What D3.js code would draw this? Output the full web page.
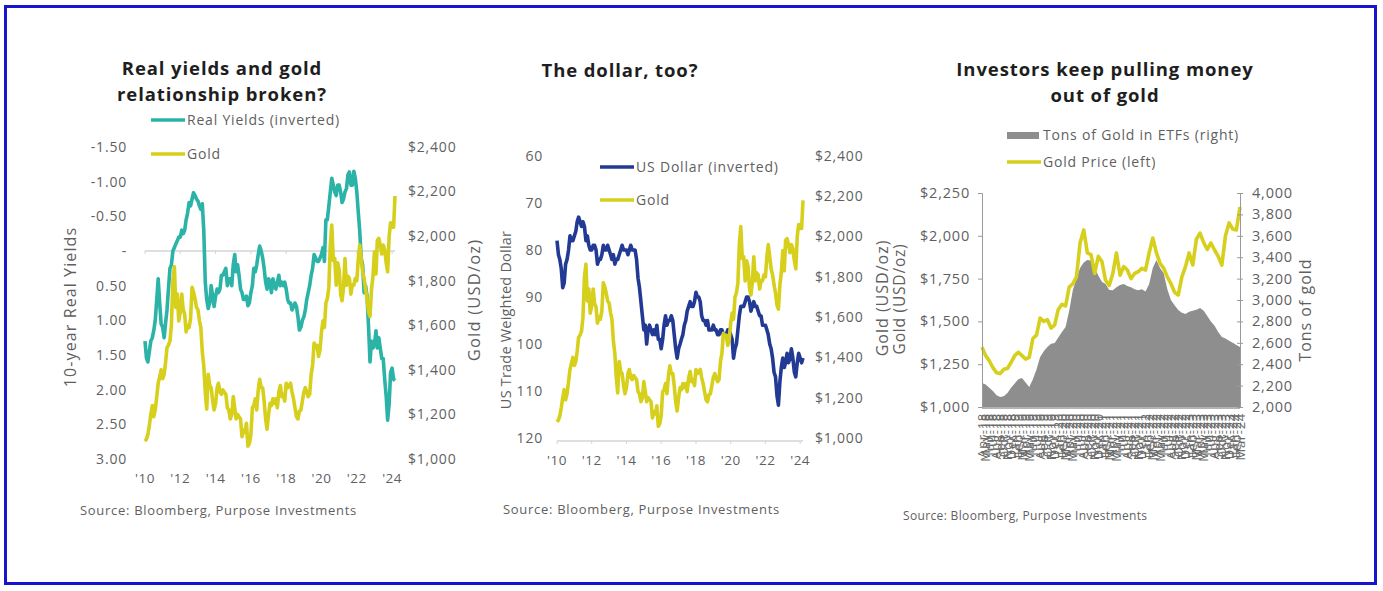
<!DOCTYPE html>
<html>
<head>
<meta charset="utf-8">
<script src="https://cdn.jsdelivr.net/npm/d3@7"></script>
<style>
  body { margin: 0; background: #fff; }
  svg { font-family: "Open Sans", sans-serif; }
</style>
</head>
<body>
<div id="chart"></div>
<script>
// ---- data: monthly, Jan-2010 .. Mar-2024 ----
var realYields = [
  1.30, 1.55, 1.60, 1.45, 1.30, 1.25, 1.15, 1.00, 0.70, 0.40, 0.75, 1.05,
  1.10, 1.25, 1.05, 0.85, 0.55, 0.25, 0.20, 0.00, -0.05, -0.10, -0.15, -0.20,
  -0.20, -0.30, -0.25, -0.30, -0.45, -0.55, -0.70, -0.65, -0.75, -0.84, -0.80, -0.75,
  -0.72, -0.65, -0.60, -0.68, -0.30, 0.45, 0.70, 0.83, 0.75, 0.50, 0.65, 0.80,
  0.65, 0.55, 0.60, 0.55, 0.35, 0.35, 0.30, 0.25, 0.50, 0.40, 0.40, 0.50,
  0.20, 0.05, 0.30, 0.20, 0.35, 0.55, 0.60, 0.70, 0.70, 0.65, 0.79, 0.75,
  0.60, 0.50, 0.25, 0.30, 0.20, 0.05, -0.07, 0.00, 0.10, 0.25, 0.45, 0.55,
  0.40, 0.45, 0.60, 0.40, 0.50, 0.55, 0.45, 0.35, 0.50, 0.45, 0.50, 0.45,
  0.55, 0.70, 0.75, 0.75, 0.85, 0.80, 0.75, 0.80, 0.95, 1.14, 1.10, 1.00,
  0.95, 0.85, 0.70, 0.60, 0.50, 0.35, 0.25, 0.05, 0.10, 0.15, 0.15, 0.10,
  0.05, -0.05, 0.15, -0.45, -0.45, -0.65, -0.85, -1.05, -0.95, -0.85, -0.80, -0.95,
  -0.95, -0.85, -0.70, -0.75, -0.85, -0.90, -1.10, -1.14, -0.95, -0.95, -1.15, -1.05,
  -0.85, -0.55, -0.30, 0.10, 0.20, 0.60, 0.50, 0.65, 1.10, 1.60, 1.30, 1.40,
  1.35, 1.15, 1.40, 1.25, 1.40, 1.55, 1.55, 1.85, 2.10, 2.44, 2.20, 1.75,
  1.69, 1.85, 1.87
];
var goldPrice = [
  1080, 1090, 1110, 1150, 1200, 1240, 1190, 1220, 1280, 1340, 1370, 1400,
  1360, 1380, 1430, 1500, 1510, 1530, 1600, 1800, 1863, 1680, 1740, 1620,
  1660, 1740, 1670, 1650, 1570, 1600, 1590, 1630, 1770, 1750, 1720, 1680,
  1670, 1620, 1590, 1480, 1420, 1300, 1224, 1380, 1330, 1320, 1260, 1220,
  1250, 1320, 1340, 1300, 1290, 1310, 1300, 1290, 1230, 1220, 1180, 1200,
  1280, 1230, 1180, 1200, 1190, 1180, 1100, 1130, 1120, 1160, 1058, 1070,
  1110, 1230, 1240, 1270, 1220, 1310, 1358, 1320, 1320, 1260, 1180, 1134,
  1200, 1250, 1240, 1270, 1250, 1270, 1230, 1300, 1330, 1280, 1290, 1260,
  1340, 1320, 1330, 1340, 1300, 1270, 1230, 1190, 1180, 1215, 1220, 1260,
  1300, 1320, 1300, 1280, 1290, 1380, 1420, 1520, 1500, 1510, 1460, 1490,
  1570, 1620, 1590, 1700, 1720, 1770, 1960, 2050, 1890, 1900, 1780, 1880,
  1850, 1740, 1710, 1770, 1900, 1780, 1820, 1810, 1740, 1780, 1780, 1810,
  1800, 1900, 1960, 1900, 1840, 1810, 1760, 1720, 1660, 1640, 1760, 1820,
  1930, 1830, 1980, 1990, 1960, 1920, 1960, 1940, 1880, 1840, 2000, 2060,
  2040, 2040, 2180
];
var usDollar = [
  78, 81, 82, 84, 88, 87, 83, 82, 80, 77, 78, 78,
  77, 76, 74, 73, 74, 75, 74, 75, 78, 77, 79, 80,
  80, 79, 79, 80, 83, 82, 82, 81, 79, 80, 80, 79,
  80, 81, 82, 81, 83, 82, 82, 81, 80, 79, 80, 80,
  80, 81, 80, 79, 80, 80, 80, 82, 86, 88, 91, 94,
  97, 96, 100, 97, 96, 97, 98, 97, 98, 96, 99, 99,
  101, 99, 96, 94, 96, 95, 95, 94, 95, 98, 101, 103,
  101, 100, 99, 98, 96, 95, 93, 92, 91, 92, 92, 91,
  89, 90, 90, 91, 94, 95, 95, 96, 95, 97, 97, 97,
  96, 97, 97, 98, 98, 97, 97, 98, 98, 98, 97, 97,
  98, 99, 103, 101, 100, 97, 94, 92, 92, 92, 91, 90,
  90, 91, 93, 92, 91, 92, 92, 93, 94, 94, 96, 96,
  96, 97, 98, 100, 101, 103, 106, 107, 111, 113, 108, 105,
  103, 105, 104, 102, 104, 103, 101, 103, 106, 107, 104, 102,
  103, 104, 103
];
var yearTicks = [2010, 2012, 2014, 2016, 2018, 2020, 2022, 2024];
var yieldTicks = [-1.5, -1.0, -0.5, 0, 0.5, 1.0, 1.5, 2.0, 2.5, 3.0];
var goldTicks = [1000, 1200, 1400, 1600, 1800, 2000, 2200, 2400];
var dollarTicks = [60, 70, 80, 90, 100, 110, 120];

// ---- panel 3: monthly, Apr-18 .. Mar-24 ----
var etfMonths = [
  "Apr-18","May-18","Jun-18","Jul-18","Aug-18","Sep-18","Oct-18","Nov-18","Dec-18",
  "Jan-19","Feb-19","Mar-19","Apr-19","May-19","Jun-19","Jul-19","Aug-19","Sep-19","Oct-19","Nov-19","Dec-19",
  "Jan-20","Feb-20","Mar-20","Apr-20","May-20","Jun-20","Jul-20","Aug-20","Sep-20","Oct-20","Nov-20","Dec-20",
  "Jan-21","Feb-21","Mar-21","Apr-21","May-21","Jun-21","Jul-21","Aug-21","Sep-21","Oct-21","Nov-21","Dec-21",
  "Jan-22","Feb-22","Mar-22","Apr-22","May-22","Jun-22","Jul-22","Aug-22","Sep-22","Oct-22","Nov-22","Dec-22",
  "Jan-23","Feb-23","Mar-23","Apr-23","May-23","Jun-23","Jul-23","Aug-23","Sep-23","Oct-23","Nov-23","Dec-23",
  "Jan-24","Feb-24","Mar-24"
];
var etfTons = [
  2224, 2210, 2180, 2150, 2110, 2093, 2100, 2130, 2180,
  2220, 2260, 2271, 2230, 2187, 2260, 2350, 2467, 2520, 2560, 2590, 2598,
  2650, 2700, 2748, 2900, 3093, 3200, 3300, 3350, 3374, 3370, 3300, 3230,
  3170, 3150, 3093, 3090, 3120, 3140, 3150, 3130, 3120, 3100, 3090, 3100,
  3080, 3150, 3300, 3374, 3300, 3250, 3100, 3000, 2950, 2906, 2880, 2870,
  2890, 2900, 2910, 2925, 2900, 2850, 2800, 2760, 2700, 2654, 2640, 2620,
  2600, 2580, 2560
];
var etfGold = [
  1350, 1300, 1270, 1230, 1200, 1195, 1220, 1225, 1260,
  1300, 1320, 1300, 1280, 1290, 1400, 1420, 1520, 1500, 1510, 1461, 1480,
  1570, 1600, 1590, 1700, 1720, 1760, 1960, 2034, 1900, 1890, 1780, 1880,
  1850, 1740, 1710, 1780, 1900, 1770, 1820, 1800, 1750, 1780, 1790, 1810,
  1800, 1900, 1987, 1900, 1840, 1810, 1760, 1720, 1670, 1654, 1760, 1820,
  1900, 1830, 1980, 2016, 1960, 1920, 1958, 1917, 1880, 1829, 2000, 2075,
  2040, 2034, 2168
];
var goldTicks3 = [1000, 1250, 1500, 1750, 2000, 2250];
var tonTicks = [2000, 2200, 2400, 2600, 2800, 3000, 3200, 3400, 3600, 3800, 4000];

// colours
var TEAL = "#2bb3a7", GOLD = "#d6cf1c", NAVY = "#223a94", GREY = "#8e8e8e";
var TXT = "#5f5f5f";

var width = 1383, height = 591;
var svg = d3.select("#chart").append("svg")
  .attr("width", width).attr("height", height);

// blue frame
svg.append("rect")
  .attr("x", 5.5).attr("y", 6.5).attr("width", 1370).attr("height", 577)
  .attr("fill", "none").attr("stroke", "#1515d0").attr("stroke-width", 3);

function monthDate(i) { return new Date(2010, i, 1); }

// titles, one text per line
function title(lines, cx, y0) {
  lines.forEach(function(s, i) {
    svg.append("text").attr("x", cx).attr("y", y0 + i * 25.5)
      .attr("text-anchor", "middle").style("font-size", "18.5px")
      .style("letter-spacing", "0.9px")
      .style("font-weight", 700).style("fill", "#1e1e1e").text(s);
  });
}

function vtitle(t, x, y, size, ls) {
  svg.append("text").attr("transform", "translate(" + x + "," + y + ") rotate(-90)")
    .attr("text-anchor", "middle").attr("dy", "0.35em")
    .style("font-size", size + "px").style("letter-spacing", ls + "px")
    .style("fill", TXT).text(t);
}

function legendLine(x, y, color, label) {
  svg.append("line").attr("x1", x).attr("x2", x + 34).attr("y1", y).attr("y2", y)
    .attr("stroke", color).attr("stroke-width", 3.5);
  svg.append("text").attr("x", x + 36).attr("y", y).attr("dy", "0.35em")
    .style("font-size", "14px").style("letter-spacing", "0.8px")
    .style("fill", TXT).text(label);
}

function source(x, y, size, ls) {
  svg.append("text").attr("x", x).attr("y", y)
    .style("font-size", size + "px").style("letter-spacing", ls + "px")
    .style("fill", TXT)
    .text("Source: Bloomberg, Purpose Investments");
}

function tickLabels(ticks, scale, x, anchor, fmt, size) {
  svg.append("g").selectAll("text").data(ticks).enter().append("text")
    .attr("x", x).attr("y", function(d) { return scale(d); })
    .attr("dy", "0.35em").attr("text-anchor", anchor)
    .style("font-size", (size || 14) + "px").style("letter-spacing", "0.8px")
    .style("fill", TXT)
    .text(fmt);
}

var fmtGold = function(d) { return "$" + d3.format(",")(d); };

// dual-axis time series panel (panels 1 and 2)
function dualPanel(o) {
  var x = d3.scaleTime()
    .domain([monthDate(0), monthDate(o.left.length - 1)])
    .range([o.x0, o.x1]);
  var yL = d3.scaleLinear().domain(o.leftDomain).range([o.yTop, o.yBot]);
  var yR = d3.scaleLinear().domain([2400, 1000]).range([o.yTop, o.yBot]);

  // reference line with small ticks
  var baseY = o.baseAt(yL);
  svg.append("line").attr("x1", o.x0).attr("x2", x(new Date(2024, 2, 1)))
    .attr("y1", baseY).attr("y2", baseY).attr("stroke", "#d4d4d4").attr("stroke-width", 1.5);
  svg.append("g").selectAll("line").data(yearTicks).enter().append("line")
    .attr("x1", function(d) { return x(new Date(d, 0, 1)); })
    .attr("x2", function(d) { return x(new Date(d, 0, 1)); })
    .attr("y1", baseY).attr("y2", baseY + 3)
    .attr("stroke", "#d4d4d4").attr("stroke-width", 1);

  tickLabels(o.leftTicks, yL, o.leftLabelX, "end", o.leftFmt);
  tickLabels(goldTicks, yR, o.rightLabelX, "start", fmtGold);

  svg.append("g").selectAll("text").data(yearTicks).enter().append("text")
    .attr("x", function(d) { return x(new Date(d, 0, 1)); })
    .attr("y", o.xLabelY).attr("text-anchor", "middle")
    .style("font-size", "13.5px").style("letter-spacing", "0.5px").style("fill", TXT)
    .text(function(d) { return "'" + String(d).slice(2); });

  var lineL = d3.line()
    .x(function(d, i) { return x(monthDate(i)); })
    .y(function(d) { return yL(d); });
  var lineR = d3.line()
    .x(function(d, i) { return x(monthDate(i)); })
    .y(function(d) { return yR(d); });

  svg.append("path").attr("d", lineL(o.left)).attr("fill", "none")
    .attr("stroke", o.leftColor).attr("stroke-width", 3.6).attr("stroke-linejoin", "round");
  svg.append("path").attr("d", lineR(goldPrice)).attr("fill", "none")
    .attr("stroke", GOLD).attr("stroke-width", 3.6).attr("stroke-linejoin", "round");
}

// ---- panel 1 ----
title(["Real yields and gold", "relationship broken?"], 222, 75);
legendLine(151, 120, TEAL, "Real Yields (inverted)");
legendLine(151, 154, GOLD, "Gold");
dualPanel({
  left: realYields, leftColor: TEAL,
  leftDomain: [-1.5, 3.0], leftTicks: yieldTicks,
  leftFmt: function(d) { return d === 0 ? "-" : d.toFixed(2); },
  x0: 145, x1: 395, yTop: 147, yBot: 459,
  baseAt: function(y) { return y(0); },
  leftLabelX: 127, rightLabelX: 408, xLabelY: 483
});
vtitle("10-year Real Yields", 70, 307, 16, 1.1);
vtitle("Gold (USD/oz)", 474, 300, 16.5, 1.2);
source(80, 515, 13, 0.7);

// ---- panel 2 ----
title(["The dollar, too?"], 620, 77);
legendLine(600, 167, NAVY, "US Dollar (inverted)");
legendLine(600, 200, GOLD, "Gold");
dualPanel({
  left: usDollar, leftColor: NAVY,
  leftDomain: [60, 120], leftTicks: dollarTicks,
  leftFmt: function(d) { return d; },
  x0: 557, x1: 803, yTop: 156, yBot: 438,
  baseAt: function(y) { return 441; },
  leftLabelX: 543, rightLabelX: 815, xLabelY: 465
});
vtitle("US Trade Weighted Dollar", 506, 320, 14.5, 0.2);
vtitle("Gold (USD/oz)", 882, 298, 16, 1.0);
source(503, 514, 13, 0.7);

// ---- panel 3 ----
title(["Investors keep pulling money", "out of gold"], 1105, 76);
svg.append("rect").attr("x", 1007).attr("y", 132).attr("width", 32).attr("height", 7).attr("fill", GREY);
svg.append("text").attr("x", 1043).attr("y", 135.5).attr("dy", "0.35em")
  .style("font-size", "14px").style("letter-spacing", "0.8px")
  .style("fill", TXT).text("Tons of Gold in ETFs (right)");
legendLine(1007, 162, GOLD, "Gold Price (left)");

var x3 = d3.scalePoint().domain(etfMonths).range([982, 1240]);
var yL3 = d3.scaleLinear().domain([1000, 2250]).range([407, 193]);
var yR3 = d3.scaleLinear().domain([2000, 4000]).range([407, 193]);

var area3 = d3.area()
  .x(function(d, i) { return x3(etfMonths[i]); })
  .y0(yR3(2000))
  .y1(function(d) { return yR3(d); });
svg.append("path").attr("d", area3(etfTons)).attr("fill", GREY);

var line3 = d3.line()
  .x(function(d, i) { return x3(etfMonths[i]); })
  .y(function(d) { return yL3(d); });
svg.append("path").attr("d", line3(etfGold)).attr("fill", "none")
  .attr("stroke", GOLD).attr("stroke-width", 3.6).attr("stroke-linejoin", "round");

// axes of panel 3
var axisCol = "#9a9a9a";
svg.append("g").attr("transform", "translate(982,0)")
  .call(d3.axisLeft(yL3).tickValues(goldTicks3).tickSize(4).tickFormat(""))
  .call(function(g) { g.selectAll("line,path").attr("stroke", axisCol); });
svg.append("g").attr("transform", "translate(1240,0)")
  .call(d3.axisRight(yR3).tickValues(tonTicks).tickSize(3).tickFormat(""))
  .call(function(g) {
    g.selectAll("line,path").attr("stroke", axisCol);
    g.selectAll(".tick line").attr("x1", -3);
  });
svg.append("line").attr("x1", 982).attr("x2", 1240).attr("y1", 408).attr("y2", 408)
  .attr("stroke", axisCol).attr("stroke-width", 1.5);

tickLabels(goldTicks3, yL3, 970, "end", fmtGold, 14.5);
tickLabels(tonTicks, yR3, 1252, "start", d3.format(","), 14.5);

svg.append("g").selectAll("text").data(etfMonths).enter().append("text")
  .attr("transform", function(d) { return "translate(" + x3(d) + ",413) rotate(-90)"; })
  .attr("dy", "0.35em").attr("text-anchor", "end")
  .style("font-size", "13px").style("letter-spacing", "0.7px").style("fill", "#6a6a6a")
  .text(function(d) { return d; });

vtitle("Gold (USD/oz)", 900, 299, 15.5, 0.8);
vtitle("Tons of gold", 1305, 310, 16, 1.0);
source(903, 520, 12, 0.35);
</script>
</body>
</html>
